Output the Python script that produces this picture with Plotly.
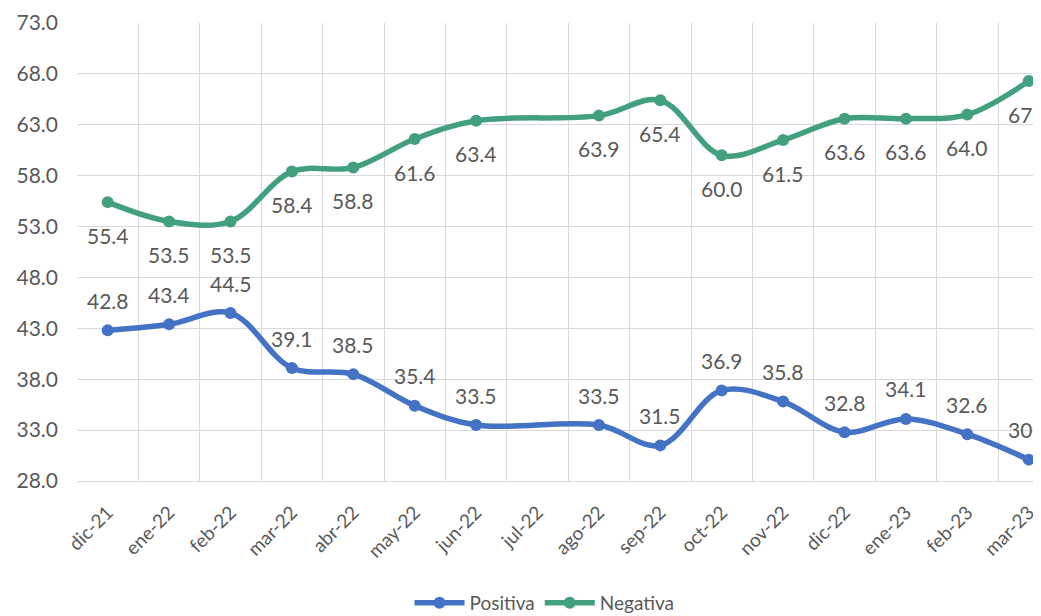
import plotly.graph_objects as go

meses = ["dic-21", "ene-22", "feb-22", "mar-22", "abr-22", "may-22", "jun-22", "jul-22",
         "ago-22", "sep-22", "oct-22", "nov-22", "dic-22", "ene-23", "feb-23", "mar-23"]
positiva = [42.8, 43.4, 44.5, 39.1, 38.5, 35.4, 33.5, None,
            33.5, 31.5, 36.9, 35.8, 32.8, 34.1, 32.6, 30.1]
negativa = [55.4, 53.5, 53.5, 58.4, 58.8, 61.6, 63.4, None,
            63.9, 65.4, 60.0, 61.5, 63.6, 63.6, 64.0, 67.3]

azul = "#4472C4"
verde = "#43A07D"
gris = "#595959"
fuente = "Lato"

fig = go.Figure()
fig.add_trace(go.Scatter(
    x=meses, y=positiva, name="Positiva", mode="lines+markers",
    line=dict(color=azul, width=5.5, shape="spline", smoothing=1),
    marker=dict(size=12, color=azul), connectgaps=True
))
fig.add_trace(go.Scatter(
    x=meses, y=negativa, name="Negativa", mode="lines+markers",
    line=dict(color=verde, width=5.5, shape="spline", smoothing=1),
    marker=dict(size=12, color=verde), connectgaps=True
))

# etiquetas: positiva arriba, negativa abajo
for m, p, n in zip(meses, positiva, negativa):
    if p is not None:
        fig.add_annotation(x=m, y=p, text=f"{p:.1f}", showarrow=False, yshift=30,
                           font=dict(family=fuente, size=21, color=gris))
    if n is not None:
        fig.add_annotation(x=m, y=n, text=f"{n:.1f}", showarrow=False, yshift=-33,
                           font=dict(family=fuente, size=21, color=gris))

fig.update_layout(
    width=1033, height=616,
    margin=dict(l=69, r=0, t=15, b=143),
    plot_bgcolor="white", paper_bgcolor="white",
    font=dict(family=fuente, size=18, color=gris),
    showlegend=True,
    legend=dict(orientation="h", x=0.485, xanchor="center", y=-0.266, yanchor="middle",
                font=dict(size=19, color=gris), itemwidth=50),
)
fig.update_xaxes(
    type="category", range=[-0.5, 15.2], tickson="boundaries", ticks="",
    tickangle=-45, showgrid=True, gridcolor="#D9D9D9", gridwidth=1,
    showline=True, linecolor="#D9D9D9", ticklabelstandoff=12, automargin=False,
    tickfont=dict(family=fuente, size=19, color=gris)
)
fig.update_yaxes(
    range=[28, 73], dtick=5, tick0=28, tickformat=".1f",
    showgrid=True, gridcolor="#D9D9D9", zeroline=False, ticks="",
    ticklabelstandoff=18, automargin=False,
    tickfont=dict(family=fuente, size=21, color=gris)
)

fig.write_html("out.html")
